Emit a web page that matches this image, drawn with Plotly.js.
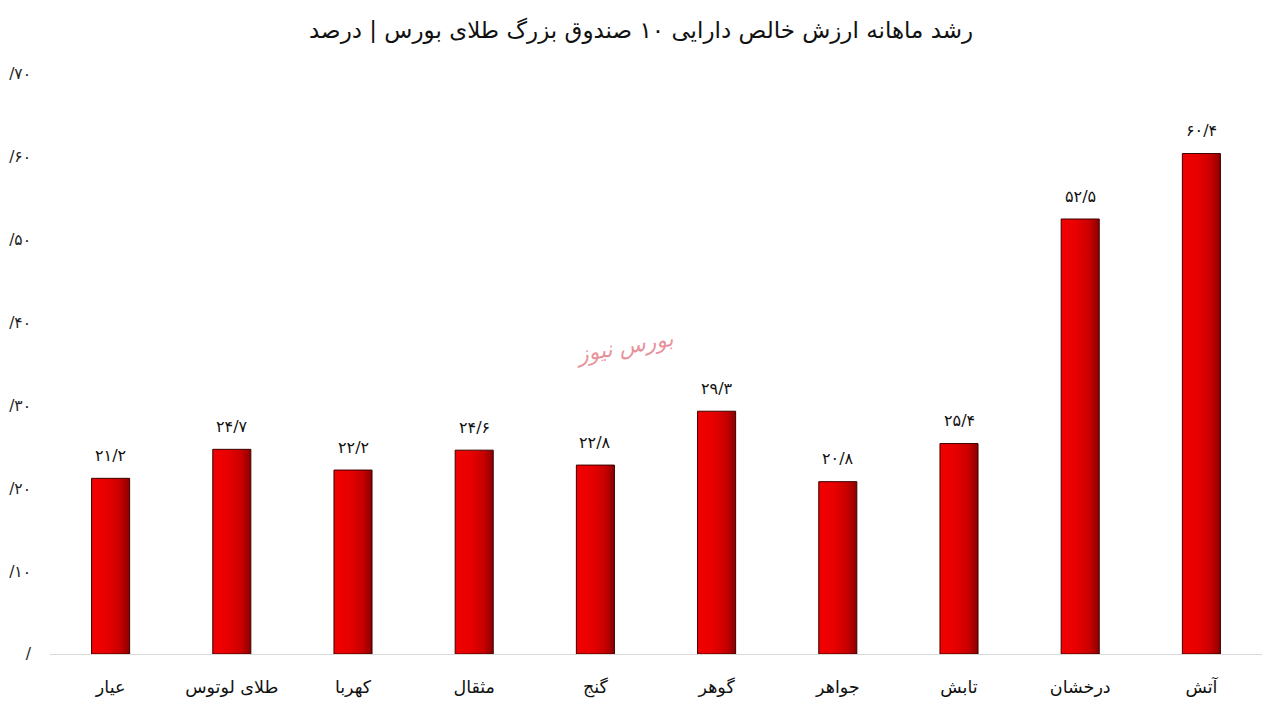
<!DOCTYPE html>
<html>
<head>
<meta charset="utf-8">
<script src="https://cdn.plot.ly/plotly-3.0.1.min.js"></script>
<style>
html,body{margin:0;padding:0;background:#fff;}
#chart{width:1262px;height:707px;}
</style>
</head>
<body>
<div id="chart"></div>
<script>
const categories = ["عیار", "طلای لوتوس", "کهربا", "مثقال", "گنج", "گوهر", "جواهر", "تابش", "درخشان", "آتش"];
const values = [21.2, 24.7, 22.2, 24.6, 22.8, 29.3, 20.8, 25.4, 52.5, 60.4];
const valueLabels = ["۲۱/۲", "۲۴/۷", "۲۲/۲", "۲۴/۶", "۲۲/۸", "۲۹/۳", "۲۰/۸", "۲۵/۴", "۵۲/۵", "۶۰/۴"];
const yTickVals = [0, 10, 20, 30, 40, 50, 60, 70];
const yTickText = ["/", "/۱۰", "/۲۰", "/۳۰", "/۴۰", "/۵۰", "/۶۰", "/۷۰"];
const titleText = "رشد ماهانه ارزش خالص دارایی ۱۰ صندوق بزرگ طلای بورس | درصد";
const watermark = "بورس نیوز";

const FONT = "'DejaVu Sans', 'Noto Sans', sans-serif";

const trace = {
  type: "bar",
  x: categories,
  y: values,
  marker: { color: "#e00000", line: { color: "#3a0000", width: 1 } },
  hoverinfo: "none"
};

const annotations = categories.map((c, i) => ({
  x: c, y: values[i], xref: "x", yref: "y",
  text: valueLabels[i], showarrow: false,
  yshift: 23, font: { family: FONT, size: 16, color: "#111" }
}));
annotations.push({
  xref: "paper", yref: "paper", x: 0.474, y: 0.53,
  text: "<i>" + watermark + "</i>", showarrow: false, textangle: -10,
  font: { family: FONT, size: 22, color: "rgba(215,70,85,0.6)" }
});

const layout = {
  width: 1262, height: 707,
  margin: { l: 50, r: 0, t: 74, b: 53 },
  paper_bgcolor: "#fff", plot_bgcolor: "#fff",
  title: { text: titleText, x: 0.508, xanchor: "center", y: 0.958, yanchor: "middle",
           font: { family: FONT, size: 23, color: "#111" } },
  bargap: 0.686,
  showlegend: false,
  xaxis: {
    type: "category", showgrid: false, showline: true, linecolor: "#d9d9d9", linewidth: 1,
    ticks: "", tickfont: { family: FONT, size: 17.5, color: "#111" }, ticklabelstandoff: 17,
    zeroline: false
  },
  yaxis: {
    range: [0, 70], tickvals: yTickVals, ticktext: yTickText, showgrid: false,
    zeroline: false, showline: false, ticks: "", ticklabelstandoff: 18,
    tickfont: { family: FONT, size: 15.5, color: "#222" }
  },
  annotations: annotations
};

Plotly.newPlot("chart", [trace], layout, { staticPlot: true, displayModeBar: false }).then(gd => {
  const svg = gd.querySelector("svg.main-svg");
  const ns = "http://www.w3.org/2000/svg";
  let defs = svg.querySelector("defs");
  if (!defs) { defs = document.createElementNS(ns, "defs"); svg.insertBefore(defs, svg.firstChild); }
  const grad = document.createElementNS(ns, "linearGradient");
  grad.setAttribute("id", "barGrad");
  grad.setAttribute("x1", "0"); grad.setAttribute("y1", "0");
  grad.setAttribute("x2", "1"); grad.setAttribute("y2", "0");
  [["0", "#f20000"], ["0.4", "#e80000"], ["0.75", "#c80000"], ["1", "#8a0000"]].forEach(([o, c]) => {
    const s = document.createElementNS(ns, "stop");
    s.setAttribute("offset", o); s.setAttribute("stop-color", c);
    grad.appendChild(s);
  });
  defs.appendChild(grad);
  gd.querySelectorAll(".bars .point path").forEach(p => { p.style.fill = "url(#barGrad)"; });
});
</script>
</body>
</html>
